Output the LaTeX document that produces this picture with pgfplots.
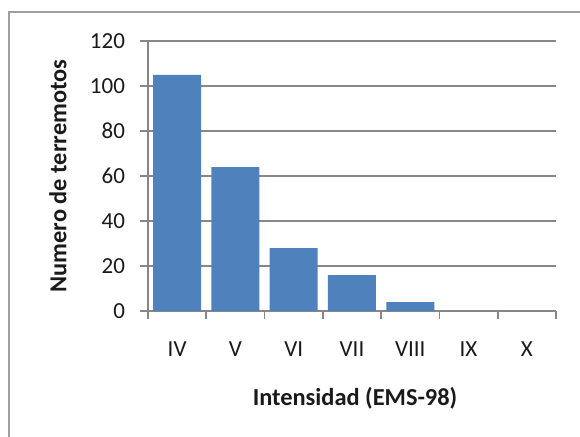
\documentclass[border=0pt]{standalone}
\usepackage{pgfplots}
\pgfplotsset{compat=1.18}
\usepackage{fontspec}
\setmainfont{Carlito}
\definecolor{barblue}{HTML}{4F81BD}
\definecolor{gridgray}{HTML}{878787}
\definecolor{txt}{HTML}{1A1A1A}
\begin{document}
\begin{tikzpicture}
\path[use as bounding box] (0,0) rectangle (290pt,218pt);
\draw[gridgray!80, line width=0.8pt] (4.5pt,-2pt) -- (4.5pt,212pt) -- (292pt,212pt);
\begin{axis}[
  at={(74pt,62.5pt)}, anchor=south west,
  scale only axis, width=204pt, height=135pt,
  ymin=0, ymax=120, ytick={0,20,...,120},
  xmin=-0.5, xmax=6.5,
  xtick={0,...,6},
  xticklabels={IV,V,VI,VII,VIII,IX,X},
  minor xtick={-0.5,0.5,...,6.5},
  major x tick style={draw=none},
  minor x tick style={gridgray, line width=0.8pt},
  y tick style={gridgray, line width=0.8pt},
  tick align=outside, tick pos=left,
  major tick length=4pt, minor tick length=4pt,
  ymajorgrids, grid style={gridgray, line width=0.8pt},
  axis x line*=bottom, axis y line*=left,
  axis line style={gridgray, line width=0.8pt, -},
  separate axis lines,
  ticklabel style={font=\fontsize{11.5}{13}\selectfont, text=txt},
  /pgf/number format/assume math mode=true,
  xticklabel style={yshift=-8pt},
  yticklabel style={xshift=-4pt},
  xlabel={\textbf{Intensidad (EMS-98)}},
  ylabel={\textbf{Numero de terremotos}},
  label style={font=\fontsize{12.2}{14}\selectfont, text=txt},
  xlabel style={at={(axis description cs:0.5,0)}, anchor=center, yshift=-43.5pt, xshift=1.5pt},
  ylabel style={at={(axis description cs:0,0.5)}, anchor=center, yshift=45pt},
  clip=false,
]
\addplot[ybar, bar width=24pt, fill=barblue, draw=none, bar shift=0pt]
  coordinates {(0,105) (1,64) (2,28) (3,16) (4,4) (5,0) (6,0)};
\end{axis}
\end{tikzpicture}
\end{document}
